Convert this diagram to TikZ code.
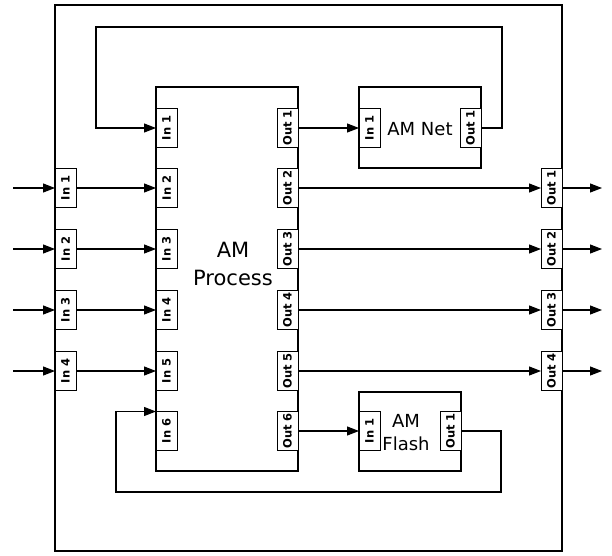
\documentclass[tikz,border=0pt]{standalone}
\usepackage{fontspec}
\setmainfont{DejaVu Sans}
\usetikzlibrary{arrows.meta}
\begin{document}
\begin{tikzpicture}[x=1pt,y=-1pt,
  line width=1.1pt,
  box/.style={draw, line width=1.1pt, inner sep=0pt, outer sep=0pt, anchor=north west},
  port/.style={draw, fill=white, minimum width=21pt, minimum height=39pt, inner sep=0pt, outer sep=0pt, line width=1pt},
  plabel/.style={rotate=90, font=\fontsize{11.5}{11.5}\selectfont\bfseries, inner sep=0pt},
  conn/.style={line width=1.1pt, -{Triangle[length=12pt,width=9pt]}},
  bigtext/.style={font=\fontsize{21}{28}\selectfont, align=center},
  midtext/.style={font=\fontsize{18}{23}\selectfont, align=center}
]
\useasboundingbox (0,0) rectangle (612,555);

% boxes
\node[box, minimum width=507pt, minimum height=546pt] (frame) at (55,5) {};
\node[box, minimum width=142pt, minimum height=384pt] (proc) at (156,87) {};
\node[box, minimum width=122pt, minimum height=81pt] (net) at (359,87) {};
\node[box, minimum width=102pt, minimum height=79pt] (flash) at (359,392) {};

% texts
\node[bigtext] (proctext) at (233,264) {AM\\Process};
\node[midtext] (nettext) at (420,129) {AM Net};
\node[midtext] (flashtext) at (406,433) {AM\\Flash};

% process ports
\foreach \i/\y in {1/128,2/188,3/249,4/310,5/371,6/431}{
  \node[port] (pi\i) at (166.5,\y) {};
  \node[plabel] (pil\i) at (pi\i) {In \i};
  \node[port] (po\i) at (287.5,\y) {};
  \node[plabel] (pol\i) at (po\i) {Out \i};
}

% AM Net ports
\node[port] (ni1) at (369.5,128) {};
\node[plabel] (nil1) at (ni1) {In 1};
\node[port] (no1) at (470.5,128) {};
\node[plabel] (nol1) at (no1) {Out 1};

% AM Flash ports
\node[port] (fi1) at (369.5,431) {};
\node[plabel] (fil1) at (fi1) {In 1};
\node[port] (fo1) at (450.5,431) {};
\node[plabel] (fol1) at (fo1) {Out 1};

% outer ports and connectors
\foreach \i/\y [evaluate=\i as \j using int(\i+1)] in {1/188,2/249,3/310,4/371}{
  \node[port] (oi\i) at (65.5,\y) {};
  \node[plabel] (oil\i) at (oi\i) {In \i};
  \node[port] (oo\i) at (551.5,\y) {};
  \node[plabel] (ool\i) at (oo\i) {Out \i};
  \coordinate (ein\i) at (13,\y);
  \coordinate (eout\i) at (602,\y);
  \draw[conn] (ein\i) -- (oi\i.west);
  \draw[conn] (oi\i.east) -- (pi\j.west);
  \draw[conn] (po\j.east) -- (oo\i.west);
  \draw[conn] (oo\i.east) -- (eout\i);
}

% internal connectors
\draw[conn] (po1.east) -- (ni1.west);
\draw[conn] (po6.east) -- (fi1.west);

\coordinate (fbA) at (502,27);
\coordinate (fbB) at (96,27);
\draw[conn] (no1.east) -| (fbA) -- (fbB) |- (pi1.west);

\coordinate (fcA) at (501,492);
\coordinate (fcB) at (116,492);
\draw[conn] (fo1.east) -| (fcA) -- (fcB) |- (pi6.north west);
\end{tikzpicture}
\end{document}
